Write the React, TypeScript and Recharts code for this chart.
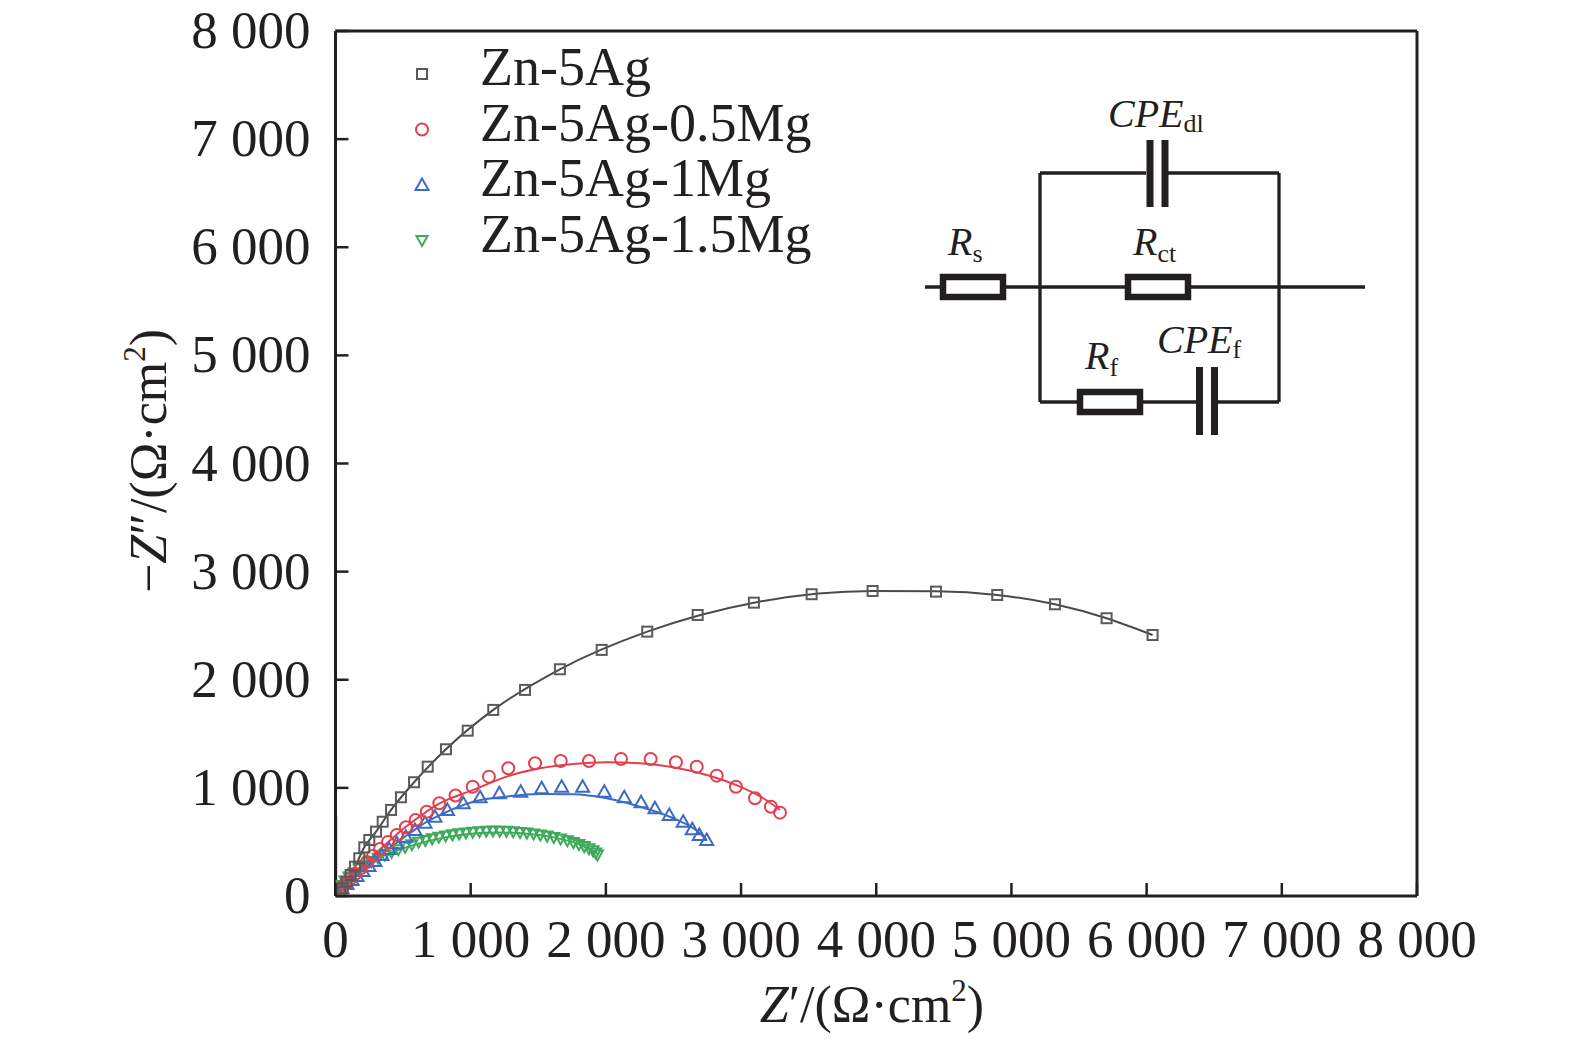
import React from "react";
import { ComposedChart, Line, Scatter, XAxis, YAxis, Legend, ReferenceLine } from "recharts";

const SERIF = '"Liberation Serif", "Times New Roman", serif';
const INK = "#231f20";
const AXIS = "#231f20";

const seriesNames = ["Zn-5Ag", "Zn-5Ag-0.5Mg", "Zn-5Ag-1Mg", "Zn-5Ag-1.5Mg"];
const seriesColors = ["#5a5a5a", "#e3404f", "#3b6cc2", "#3fa95c"];
const lineColors = ["#4a4a4a", "#e3404f", "#3b6cc2", "#3fa95c"];
const axisTicks = [0, 1000, 2000, 3000, 4000, 5000, 6000, 7000, 8000];

// measured points, [Z', -Z'']
const zn5AgPts: [number, number][] = [
  [33, 40], [53, 71], [83, 132], [112, 194], [144, 271], [176, 349], [213, 450],
  [250, 518], [300, 595], [349, 687], [411, 796], [484, 913], [581, 1052],
  [682, 1196], [817, 1357], [978, 1529], [1167, 1721], [1402, 1906], [1660, 2097],
  [1969, 2276], [2306, 2445], [2679, 2599], [3095, 2713], [3522, 2791],
  [3973, 2821], [4442, 2815], [4895, 2784], [5322, 2698], [5704, 2569], [6044, 2414],
];
const mg05Pts: [number, number][] = [
  [18, 37], [41, 74], [70, 111], [107, 157], [144, 204], [189, 259], [233, 315],
  [277, 370], [329, 435], [388, 500], [453, 564], [521, 636], [593, 703],
  [675, 780], [768, 858], [888, 930], [1015, 1011], [1135, 1104], [1278, 1181],
  [1476, 1228], [1666, 1249], [1875, 1249], [2112, 1267], [2331, 1267],
  [2518, 1237], [2672, 1196], [2820, 1113], [2962, 1011], [3103, 904],
  [3221, 826], [3288, 771],
];
const mg1Pts: [number, number][] = [
  [18, 37], [48, 74], [85, 111], [122, 148], [159, 185], [203, 231], [248, 278],
  [292, 324], [344, 379], [396, 435], [453, 488], [521, 549], [588, 611],
  [662, 678], [736, 734], [828, 796], [945, 858], [1069, 913], [1212, 950],
  [1370, 965], [1525, 996], [1673, 1011], [1828, 1011], [1988, 965],
  [2136, 913], [2260, 867], [2363, 811], [2469, 749], [2572, 687],
  [2639, 617], [2691, 564], [2746, 518],
];
const mg15Pts: [number, number][] = [
  [10, 25], [25, 60], [45, 98], [70, 138], [100, 175], [135, 212], [175, 250],
  [220, 285], [265, 318], [315, 350], [365, 378], [415, 404], [465, 428],
  [515, 452], [565, 475], [615, 497], [665, 514], [715, 529], [765, 543],
  [815, 555], [865, 566], [915, 575], [965, 583], [1015, 590], [1065, 595],
  [1115, 599], [1165, 601], [1215, 600], [1265, 598], [1315, 594], [1365, 588],
  [1415, 582], [1465, 574], [1515, 565], [1565, 554], [1615, 541], [1665, 527],
  [1715, 511], [1760, 494], [1800, 476], [1840, 457], [1875, 438], [1905, 418],
  [1925, 398], [1938, 380],
];

// equivalent-circuit fits
const zn5AgFit: [number, number][] = [
  [0, 0], [33, 40], [83, 132], [144, 271], [213, 450], [300, 595], [411, 796],
  [581, 1052], [817, 1357], [1167, 1721], [1660, 2097], [2306, 2445],
  [3095, 2713], [3973, 2821], [4442, 2818], [4895, 2784], [5322, 2698],
  [5704, 2569], [6044, 2414],
];
const mg05Fit: [number, number][] = [
  [0, 0], [40, 75], [110, 160], [190, 262], [280, 375], [390, 500], [520, 640],
  [650, 760], [773, 858], [1019, 981], [1266, 1104], [1513, 1181], [1759, 1221],
  [2006, 1237], [2252, 1228], [2499, 1191], [2746, 1119], [2992, 1011],
  [3164, 904], [3288, 796],
];
const mg1Fit: [number, number][] = [
  [0, 0], [40, 72], [110, 150], [200, 240], [300, 340], [420, 460], [560, 590],
  [680, 690], [773, 749], [1019, 872], [1266, 919], [1513, 944], [1759, 941],
  [2006, 904], [2252, 826], [2499, 719], [2696, 580], [2746, 518],
];
const mg15Fit: [number, number][] = [
  [0, 0], [40, 90], [120, 200], [250, 310], [400, 395], [600, 480], [800, 540],
  [1000, 575], [1200, 588], [1400, 578], [1600, 545], [1800, 478], [1940, 390],
];
const originStub: [number, number][] = [[8, 0], [8, 740]];

const toXY = (pts: [number, number][]) => pts.map(([x, y]) => ({ x, y }));

const fmt = (v: number) => (v === 0 ? "0" : `${v / 1000} 000`);

const XTick = (props: any) => {
  const { x, y, payload } = props;
  return (
    <g>
      <line x1={x} y1={y} x2={x} y2={y - 13} stroke={AXIS} strokeWidth={2.5} />
      <text x={x} y={y + 61} textAnchor="middle" fontSize={53} fontFamily={SERIF} fill={INK}>
        {fmt(payload.value)}
      </text>
    </g>
  );
};

const YTick = (props: any) => {
  const { x, y, payload } = props;
  return (
    <g>
      <line x1={x} y1={y} x2={x + 13} y2={y} stroke={AXIS} strokeWidth={2.5} />
      <text x={x - 25} y={y + 17} textAnchor="end" fontSize={53} fontFamily={SERIF} fill={INK}>
        {fmt(payload.value)}
      </text>
    </g>
  );
};

const Marker = ({ kind, cx, cy, color }: { kind: number; cx: number; cy: number; color: string }) => {
  if (kind === 0) return <rect x={cx - 5} y={cy - 5} width={10} height={10} fill="none" stroke={color} strokeWidth={2} />;
  if (kind === 1) return <circle cx={cx} cy={cy} r={6} fill="none" stroke={color} strokeWidth={2} />;
  if (kind === 2)
    return <path d={`M${cx},${cy - 6.5}L${cx + 6.5},${cy + 5}L${cx - 6.5},${cy + 5}Z`} fill="none" stroke={color} strokeWidth={2} />;
  return <path d={`M${cx - 5.5},${cy - 4.5}L${cx + 5.5},${cy - 4.5}L${cx},${cy + 5.5}Z`} fill="none" stroke={color} strokeWidth={2} />;
};

const shapeFor = (kind: number) => (p: any) => <Marker kind={kind} cx={p.cx} cy={p.cy} color={seriesColors[kind]} />;

const renderLegend = () => (
  <svg width={520} height={270} style={{ overflow: "visible" }}>
    {seriesNames.map((name, i) => (
      <g key={name}>
        <Marker kind={i} cx={22} cy={54 + i * 55.5} color={seriesColors[i]} />
        <text x={80} y={65 + i * 55.5} fontSize={54} fontFamily={SERIF} fill={INK}>
          {name}
        </text>
      </g>
    ))}
  </svg>
);

const Sub = ({ children, dy = 7 }: { children: React.ReactNode; dy?: number }) => (
  <tspan fontStyle="normal" fontSize={26} dy={dy}>
    {children}
  </tspan>
);

const Resistor = ({ x, y }: { x: number; y: number }) => (
  <rect x={x + 3} y={y + 3} width={60} height={20} fill="#fff" stroke={INK} strokeWidth={6.5} />
);

const Capacitor = ({ x, y1, y2 }: { x: number; y1: number; y2: number }) => (
  <g>
    <rect x={x - 11} y={y1} width={7} height={y2 - y1} fill={INK} />
    <rect x={x + 4} y={y1} width={7} height={y2 - y1} fill={INK} />
  </g>
);

// equivalent circuit drawn in page coordinates
const Circuit = () => (
  <g transform="translate(-8,-8)" stroke={INK} fill="none">
    <line x1={925} y1={287} x2={1365} y2={287} strokeWidth={3.3} />
    <line x1={1040} y1={173} x2={1040} y2={402} strokeWidth={3.3} />
    <line x1={1279} y1={173} x2={1279} y2={402} strokeWidth={3.3} />
    <line x1={1040} y1={173} x2={1146} y2={173} strokeWidth={3.3} />
    <line x1={1168} y1={173} x2={1279} y2={173} strokeWidth={3.3} />
    <line x1={1040} y1={402} x2={1196} y2={402} strokeWidth={3.3} />
    <line x1={1218} y1={402} x2={1279} y2={402} strokeWidth={3.3} />
    <g stroke="none">
      <Capacitor x={1157.5} y1={140} y2={207} />
      <Capacitor x={1207} y1={367} y2={435} />
    </g>
    <Resistor x={940} y={274} />
    <Resistor x={1125} y={274} />
    <Resistor x={1077} y={389} />
    <g stroke="none" fill={INK} fontFamily={SERIF} fontStyle="italic" fontSize={40}>
      <text x={1108} y={127}>
        CPE<Sub dy={5}>dl</Sub>
      </text>
      <text x={948} y={255}>
        R<Sub>s</Sub>
      </text>
      <text x={1133} y={255}>
        R<Sub>ct</Sub>
      </text>
      <text x={1085} y={369}>
        R<Sub>f</Sub>
      </text>
      <text x={1157} y={353}>
        CPE<Sub dy={5}>f</Sub>
      </text>
    </g>
  </g>
);

const AxisTitles = () => (
  <g transform="translate(-8,-8)" fill={INK} fontFamily={SERIF} fontSize={52}>
    <text x={872} y={1022} textAnchor="middle">
      <tspan fontStyle="italic">Z</tspan>′/(Ω·cm
      <tspan fontSize={31} dy={-21}>2</tspan>
      <tspan dy={21}>)</tspan>
    </text>
    <text x={166} y={461} textAnchor="middle" transform="rotate(-90 166 461)">
      −<tspan fontStyle="italic">Z</tspan>″/(Ω·cm
      <tspan fontSize={31} dy={-21}>2</tspan>
      <tspan dy={21}>)</tspan>
    </text>
  </g>
);

export default function App() {
  const W = 1560;
  const H = 1030;
  return (
    <div style={{ position: "relative", width: W, height: H }}>
      <style>{`.recharts-surface, .recharts-wrapper, .recharts-legend-wrapper { overflow: visible !important; }`}</style>
      <ComposedChart width={W} height={H} margin={{ top: 23, right: 151, bottom: 82, left: 207.5 }}>
        <XAxis
          xAxisId="b"
          type="number"
          dataKey="x"
          domain={[0, 8000]}
          ticks={axisTicks}
          allowDataOverflow
          height={60}
          axisLine={{ stroke: AXIS, strokeWidth: 3 }}
          tickLine={false}
          tickSize={0}
          tickMargin={0}
          tick={<XTick />}
          interval={0}
        />
        <YAxis
          yAxisId="l"
          type="number"
          dataKey="y"
          domain={[0, 8000]}
          ticks={axisTicks}
          allowDataOverflow
          width={120}
          axisLine={{ stroke: AXIS, strokeWidth: 3 }}
          tickLine={false}
          tickSize={0}
          tickMargin={0}
          tick={<YTick />}
          interval={0}
        />

        <ReferenceLine xAxisId="b" yAxisId="l" y={8000} stroke={AXIS} strokeWidth={3} ifOverflow="visible" />
        <ReferenceLine xAxisId="b" yAxisId="l" x={8000} stroke={AXIS} strokeWidth={3} ifOverflow="visible" />

        <Line xAxisId="b" yAxisId="l" data={toXY(originStub)} dataKey="y" type="linear" stroke="#8a8a8a" strokeWidth={1.5} dot={false} legendType="none" isAnimationActive={false} />
        <Line xAxisId="b" yAxisId="l" data={toXY(zn5AgFit)} dataKey="y" type="monotone" stroke={lineColors[0]} strokeWidth={2} dot={false} legendType="none" isAnimationActive={false} />
        <Line xAxisId="b" yAxisId="l" data={toXY(mg05Fit)} dataKey="y" type="monotone" stroke={lineColors[1]} strokeWidth={2} dot={false} legendType="none" isAnimationActive={false} />
        <Line xAxisId="b" yAxisId="l" data={toXY(mg1Fit)} dataKey="y" type="monotone" stroke={lineColors[2]} strokeWidth={2} dot={false} legendType="none" isAnimationActive={false} />
        <Line xAxisId="b" yAxisId="l" data={toXY(mg15Fit)} dataKey="y" type="monotone" stroke={lineColors[3]} strokeWidth={2} dot={false} legendType="none" isAnimationActive={false} />

        <Scatter xAxisId="b" yAxisId="l" name={seriesNames[3]} data={toXY(mg15Pts)} dataKey="y" shape={shapeFor(3)} isAnimationActive={false} />
        <Scatter xAxisId="b" yAxisId="l" name={seriesNames[2]} data={toXY(mg1Pts)} dataKey="y" shape={shapeFor(2)} isAnimationActive={false} />
        <Scatter xAxisId="b" yAxisId="l" name={seriesNames[1]} data={toXY(mg05Pts)} dataKey="y" shape={shapeFor(1)} isAnimationActive={false} />
        <Scatter xAxisId="b" yAxisId="l" name={seriesNames[0]} data={toXY(zn5AgPts)} dataKey="y" shape={shapeFor(0)} isAnimationActive={false} />

        <Legend
          layout="vertical"
          align="center"
          verticalAlign="middle"
          content={renderLegend}
          wrapperStyle={{ left: 392, top: 12, width: 520, height: 270 }}
        />
      </ComposedChart>
      <svg width={W} height={H} style={{ position: "absolute", left: 0, top: 0, pointerEvents: "none" }}>
        <AxisTitles />
        <Circuit />
      </svg>
    </div>
  );
}
